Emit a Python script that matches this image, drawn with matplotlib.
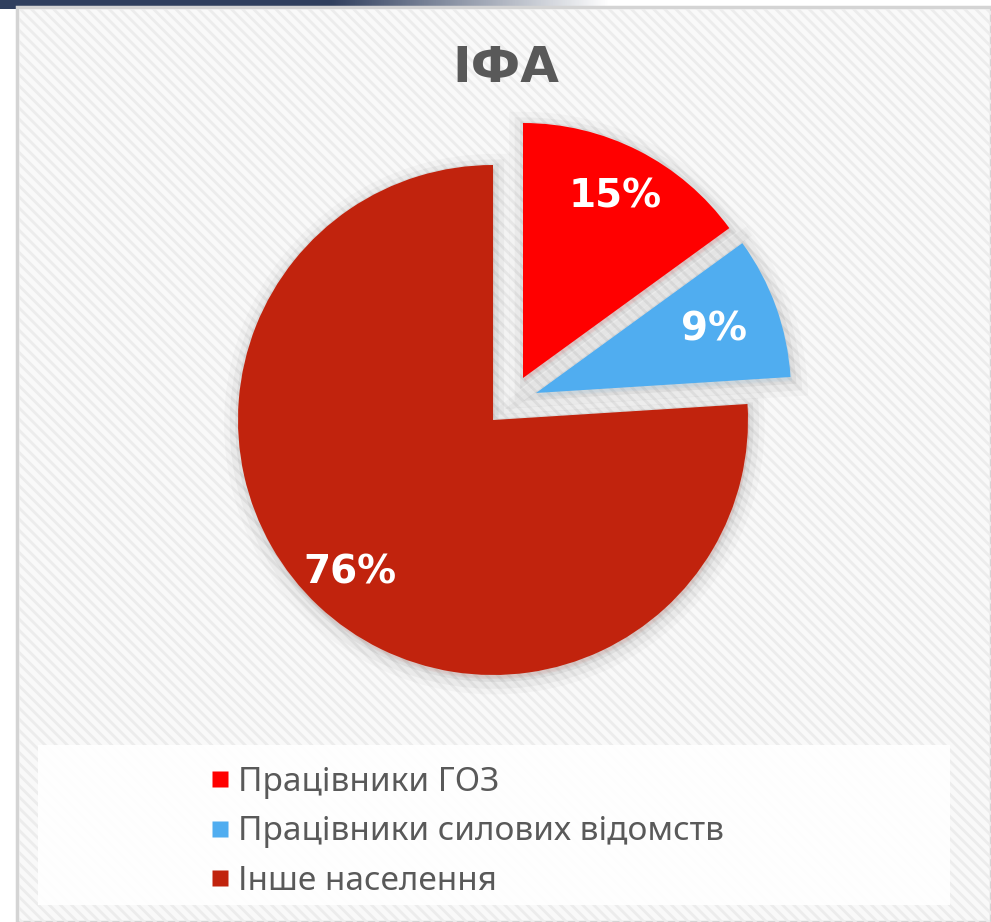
#!/usr/bin/env python

import numpy as np
import matplotlib.pyplot as plt
import matplotlib.patheffects as pe
from matplotlib.patches import Rectangle
from matplotlib.lines import Line2D

title = "ІФА"
labels = ["Працівники ГОЗ", "Працівники силових відомств", "Інше населення"]
shares = [15, 9, 76]
colors = ["#FF0000", "#50ADF0", "#C1230D"]

W, H = 991, 922
plt.rcParams['hatch.linewidth'] = 2.0
plt.rcParams['hatch.color'] = "#ECECEC"

fig = plt.figure(figsize=(W / 100, H / 100), dpi=100)
fig.patch.set_facecolor("white")

# background in pixel coords (y down)
bg = fig.add_axes([0, 0, 1, 1])
bg.set_xlim(0, W)
bg.set_ylim(H, 0)
bg.axis("off")

# dark bar on top left, fading out
xs = np.linspace(0, 1, 256)
bar = np.zeros((1, 256, 4))
bar[..., 0], bar[..., 1], bar[..., 2] = 0.19, 0.25, 0.37
bar[0, :, 3] = np.clip((1 - xs) * 2.2, 0, 1)
bg.imshow(bar, extent=(0, 610, 9, 0), aspect="auto", zorder=1)

bg.add_patch(Rectangle((17, 7), W - 17, H - 7, facecolor="#F9F9F9",
                       edgecolor="#D4D4D4", linewidth=2.5, zorder=2))
bg.add_patch(Rectangle((19, 9), W - 19, H - 9, facecolor="none",
                       hatch="\\\\\\", linewidth=0, zorder=3))

# legend box
bg.add_patch(Rectangle((38, 745), 912, 160, facecolor="white",
                       edgecolor="none", alpha=0.9, zorder=4))

bg.text(506, 68, title, ha="center", va="center", fontsize=36,
        fontweight="bold", color="#595959", family="DejaVu Sans", zorder=5)

# pie axes, 1 unit = 1 pixel (y up)
ax = fig.add_axes([0, 0, 1, 1])
ax.patch.set_alpha(0)
shadow = [pe.Stroke(linewidth=22, foreground="#000000", alpha=0.025, offset=(1, -3)),
          pe.Stroke(linewidth=14, foreground="#000000", alpha=0.035, offset=(1, -3)),
          pe.Stroke(linewidth=6, foreground="#000000", alpha=0.05, offset=(1, -2)),
          pe.Normal()]
cx, cy, r = 493, H - 420, 255
wedges, texts, autotexts = ax.pie(
    shares, colors=colors, startangle=90, counterclock=False,
    center=(cx, cy), radius=r, autopct="%.0f%%", pctdistance=0.8,
    wedgeprops=dict(linewidth=0, path_effects=shadow),
    textprops=dict(color="white", fontsize=28, fontweight="bold",
                   family="DejaVu Sans"))

# pull out the first two slices, as in the original
pull = [(30, 42), (43, 27), (0, 0)]
pct_dist = [0.8, 0.74, 0.82]
for w, t, (dx, dy), pd in zip(wedges, autotexts, pull, pct_dist):
    w.set_center((cx + dx, cy + dy))
    th = np.deg2rad((w.theta1 + w.theta2) / 2)
    t.set_position((cx + dx + pd * r * np.cos(th), cy + dy + pd * r * np.sin(th)))

ax.set_xlim(0, W)
ax.set_ylim(0, H)
ax.set_aspect("auto")
ax.axis("off")

handles = [Line2D([], [], marker="s", linestyle="none", markersize=12,
                  markerfacecolor=c, markeredgecolor="none") for c in colors]
leg = fig.legend(handles, labels, loc="upper left",
                 bbox_to_anchor=(193 / W, 1 - 749 / H), frameon=False,
                 prop=dict(family="Noto Sans", size=24), labelcolor="#595959",
                 handlelength=0.6, handletextpad=0.25, labelspacing=0.5,
                 borderpad=0)

fig.savefig("out.png", dpi=100)
